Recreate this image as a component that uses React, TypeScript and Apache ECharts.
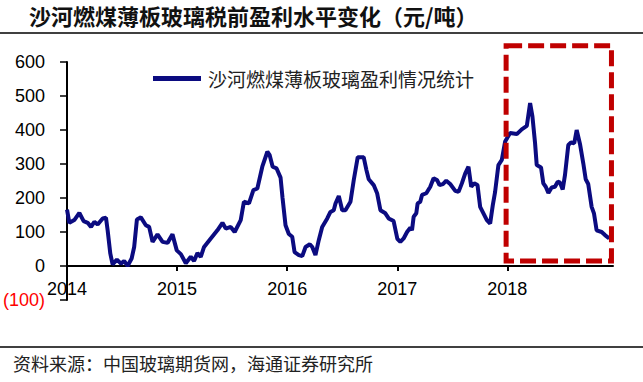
import React, { useEffect, useRef } from "react";
import * as echarts from "echarts";

const titleText = "沙河燃煤薄板玻璃税前盈利水平变化（元/吨）";
const seriesName = "沙河燃煤薄板玻璃盈利情况统计";
const sourceText = "资料来源：中国玻璃期货网，海通证券研究所";

const yearLabels = [2014, 2015, 2016, 2017, 2018];

const years = [
  2014.0, 2014.021, 2014.066, 2014.112, 2014.151, 2014.188, 2014.218, 2014.248, 2014.278, 2014.324,
  2014.354, 2014.369, 2014.393, 2014.414, 2014.453, 2014.49, 2014.519, 2014.55, 2014.587, 2014.61,
  2014.635, 2014.671, 2014.716, 2014.746, 2014.777, 2014.822, 2014.868, 2014.913, 2014.958, 2014.997,
  2015.034, 2015.079, 2015.124, 2015.154, 2015.185, 2015.215, 2015.245, 2015.306, 2015.366, 2015.412,
  2015.442, 2015.487, 2015.523, 2015.578, 2015.607, 2015.653, 2015.693, 2015.729, 2015.774, 2015.82,
  2015.84, 2015.868, 2015.904, 2015.94, 2015.958, 2015.985, 2016.015, 2016.046, 2016.067, 2016.106,
  2016.137, 2016.167, 2016.206, 2016.228, 2016.257, 2016.287, 2016.318, 2016.364, 2016.393, 2016.423,
  2016.439, 2016.469, 2016.5, 2016.529, 2016.575, 2016.605, 2016.641, 2016.695, 2016.72, 2016.741,
  2016.786, 2016.817, 2016.847, 2016.892, 2016.922, 2016.967, 2017.001, 2017.028, 2017.058, 2017.089,
  2017.119, 2017.134, 2017.149, 2017.173, 2017.185, 2017.209, 2017.225, 2017.264, 2017.3, 2017.33,
  2017.361, 2017.384, 2017.415, 2017.445, 2017.481, 2017.527, 2017.557, 2017.587, 2017.617, 2017.647,
  2017.672, 2017.699, 2017.729, 2017.753, 2017.783, 2017.814, 2017.844, 2017.868, 2017.889, 2017.919,
  2017.95, 2017.98, 2018.025, 2018.086, 2018.131, 2018.177, 2018.207, 2018.228, 2018.252, 2018.267,
  2018.306, 2018.327, 2018.349, 2018.373, 2018.403, 2018.433, 2018.458, 2018.479, 2018.503, 2018.524,
  2018.554, 2018.578, 2018.608, 2018.63, 2018.66, 2018.69, 2018.712, 2018.735, 2018.766, 2018.787,
  2018.811, 2018.857, 2018.887, 2018.926,
];

const profit = [
  166, 127, 135, 156, 132, 127, 115, 130, 122, 140,
  142, 105, 37, 5, 19, 7, 15, 0, 22, 56,
  137, 143, 120, 115, 71, 93, 71, 68, 93, 46,
  35, 8, 27, 15, 38, 27, 56, 81, 105, 127,
  110, 115, 100, 135, 189, 184, 223, 228, 292, 336,
  327, 292, 287, 260, 200, 120, 94, 86, 41, 32,
  29, 56, 64, 56, 32, 76, 115, 140, 159, 164,
  184, 206, 164, 164, 189, 253, 320, 320, 282, 255,
  238, 214, 164, 155, 140, 132, 80, 71, 81, 100,
  113, 105, 145, 155, 184, 189, 209, 214, 233, 258,
  253, 238, 241, 251, 241, 221, 218, 243, 272, 292,
  233, 243, 238, 174, 155, 135, 125, 179, 218, 297,
  312, 366, 391, 388, 402, 412, 479, 440, 361, 297,
  290, 243, 233, 215, 231, 233, 248, 245, 225, 268,
  356, 363, 361, 400, 359, 302, 255, 241, 174, 155,
  105, 100, 91, 81,
];

// highlighted period (red dashed box), in data units
const boxFrom = [2017.989, 648];
const boxTo = [2018.946, 15];

const CJK = '"Noto Sans CJK SC", "Noto Sans", sans-serif';
const LATIN = '"Liberation Sans", Arial, sans-serif';

export default function App() {
  const ref = useRef<HTMLDivElement>(null);

  useEffect(() => {
    if (!ref.current) return;
    const chart = echarts.init(ref.current, undefined, { renderer: "svg" });
    const data = years.map((y, i) => [y, profit[i]]);
    chart.setOption({
      animation: false,
      backgroundColor: "#ffffff",
      grid: { left: 66, right: 30, top: 62, bottom: 82 },
      legend: {
        data: [{ name: seriesName, icon: "rect" }],
        left: 148,
        top: 64,
        itemWidth: 48,
        itemHeight: 5,
        itemStyle: { color: "#0B0B80" },
        textStyle: { fontFamily: CJK, fontSize: 19, color: "#222", padding: [0, 0, 0, 2] },
      },
      xAxis: {
        type: "value",
        min: 2014,
        max: 2018.96,
        interval: 1,
        offset: -34,
        splitLine: { show: false },
        axisLine: { onZero: false, lineStyle: { color: "#000", width: 2 } },
        axisTick: {
          show: true,
          length: 5,
          lineStyle: { color: "#000", width: 2 },
          customValues: yearLabels.slice(1),
        },
        axisLabel: {
          customValues: yearLabels,
          formatter: (v: number) => String(Math.round(v)),
          fontFamily: LATIN,
          fontSize: 18,
          color: "#000",
          margin: 14,
        },
      },
      yAxis: {
        type: "value",
        min: -100,
        max: 600,
        interval: 100,
        splitLine: { show: false },
        axisLine: { show: true, lineStyle: { color: "#000", width: 2 } },
        axisTick: { show: true, length: 7, lineStyle: { color: "#000", width: 1.5 } },
        axisLabel: {
          fontFamily: LATIN,
          fontSize: 18,
          margin: 22,
          formatter: (v: number) => (v < 0 ? `(${Math.abs(v)})` : String(v)),
          color: (v: any) => (Number(v) < 0 ? "#FF0000" : "#000"),
        },
      },
      series: [
        {
          name: seriesName,
          type: "line",
          data,
          symbol: "none",
          lineStyle: { color: "#0B0B80", width: 4 },
          itemStyle: { color: "#0B0B80" },
        },
      ],
      graphic: [
        {
          type: "text",
          left: 29,
          top: 4,
          style: { text: titleText, fontFamily: CJK, fontSize: 22, fontWeight: "bold", fill: "#111" },
        },
        {
          type: "line",
          shape: { x1: 0, y1: 33, x2: 643, y2: 33 },
          style: { stroke: "#000", lineWidth: 1.5 },
        },
        {
          type: "line",
          shape: { x1: 0, y1: 347, x2: 643, y2: 347 },
          style: { stroke: "#000", lineWidth: 1.5 },
        },
        {
          type: "text",
          left: 13,
          top: 354,
          style: { text: sourceText, fontFamily: CJK, fontSize: 18, fill: "#222" },
        },
      ],
    });

    const p1 = chart.convertToPixel({ gridIndex: 0 }, boxFrom) as number[];
    const p2 = chart.convertToPixel({ gridIndex: 0 }, boxTo) as number[];
    chart.setOption({
      graphic: [
        {
          id: "highlightBox",
          type: "rect",
          shape: { x: p1[0], y: p1[1], width: p2[0] - p1[0], height: p2[1] - p1[1] },
          style: { fill: "none", stroke: "#C00000", lineWidth: 5, lineDash: [16, 6] },
          z: 10,
        },
      ],
    });

    return () => chart.dispose();
  }, []);

  return (
    <div
      ref={ref}
      style={{ position: "fixed", left: 0, top: 0, width: 643, height: 382, background: "#fff" }}
    />
  );
}
